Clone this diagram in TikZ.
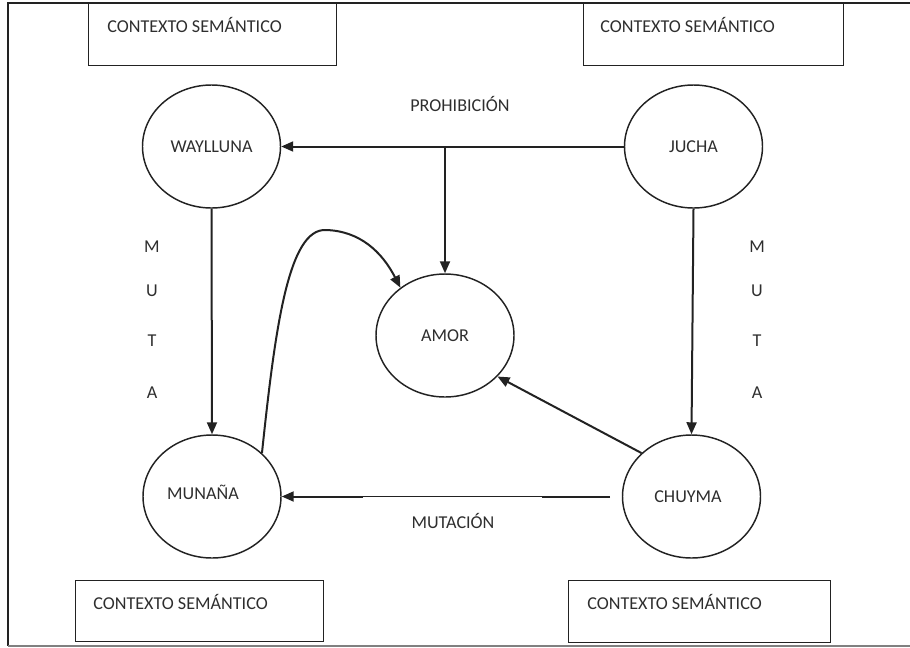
\documentclass[tikz,border=0pt]{standalone}
\usepackage{fontspec}
\setmainfont{Carlito}
\usetikzlibrary{shapes.geometric,arrows.meta}
\definecolor{ln}{HTML}{222222}
\definecolor{txt}{HTML}{2E2E2E}
\begin{document}
\begin{tikzpicture}[x=0.75pt,y=-0.75pt,
  every node/.style={font=\fontsize{13.6}{16}\selectfont, text=txt},
  circ/.style={ellipse, draw=ln, line width=1.1pt, minimum width=103.5pt, minimum height=92.25pt, inner sep=0pt},
  box/.style={rectangle, draw=ln, line width=1.1pt, anchor=north west, inner sep=0pt},
  lbl/.style={inner sep=0pt},
  boxlbl/.style={inner sep=0pt, anchor=west},
  arr/.style={draw=ln, line width=1.5pt, -{Triangle[length=9pt,width=7.5pt]}},
  plain/.style={draw=ln, line width=1.5pt}
]
\useasboundingbox (0,0) rectangle (910,647);
% frame
\draw[draw=ln, line width=1.2pt] (910,3) -- (8,3) -- (8,646);
\draw[draw=gray, line width=1.2pt] (8,646) -- (910,646);

% context boxes
\node[box, minimum width=186pt, minimum height=46.5pt] (c1) at (88,3) {};
\node[boxlbl] (c1t) at (107,25) {CONTEXTO SEMÁNTICO};
\node[box, minimum width=195pt, minimum height=46.5pt] (c2) at (583,3) {};
\node[boxlbl] (c2t) at (600,25) {CONTEXTO SEMÁNTICO};
\node[box, minimum width=186pt, minimum height=45.75pt] (c3) at (75,580) {};
\node[boxlbl] (c3t) at (93,602) {CONTEXTO SEMÁNTICO};
\node[box, minimum width=196.5pt, minimum height=46.5pt] (c4) at (568,580) {};
\node[boxlbl] (c4t) at (587,602) {CONTEXTO SEMÁNTICO};

% ellipses
\node[circ] (waylluna) at (211.5,146.5) {WAYLLUNA};
\node[circ] (jucha) at (693.5,146.5) {JUCHA};
\node[circ] (amor) at (445,335.5) {AMOR};
\node[circ] (munana) at (212,496.5) {};
\node[lbl] (munanat) at (203,492) {MUNAÑA};
\node[circ] (chuyma) at (691.5,496.5) {};
\node[lbl] (chuymat) at (688,497) {CHUYMA};

% labels
\node[lbl] (prohib) at (460,104) {PROHIBICIÓN};
\node[lbl] (mutac) at (453,521) {MUTACIÓN};
\foreach \l/\y [count=\i] in {M/247,U/291,T/341,A/393}{
  \node[lbl] (ml\i) at (152,\y) {\l};
  \node[lbl] (mr\i) at (757,\y) {\l};
}

% connectors
\draw[arr] (jucha.west) -- (waylluna.east);
\coordinate (pj) at (445,146.5);
\draw[arr] (pj) -- (amor.north);
\draw[arr] (waylluna.south) -- (munana.north);
\draw[arr] (jucha.south) -- (chuyma.north);
\draw[arr] (chuyma.139) -- (amor.-38);
\coordinate (ma) at (363,496.5);
\coordinate (mb) at (542,496.5);
\coordinate (mc) at (610,496.5);
\draw[arr] (ma) -- (munana.east);
\draw[draw=ln, line width=0.5pt] (mb) -- (ma);
\draw[plain] (mc) -- (mb);
\draw[arr] (munana.41) .. controls (275,330) and (288,228) .. (326,230)
  .. controls (360,231) and (382,252) .. (amor.133);
\end{tikzpicture}
\end{document}
